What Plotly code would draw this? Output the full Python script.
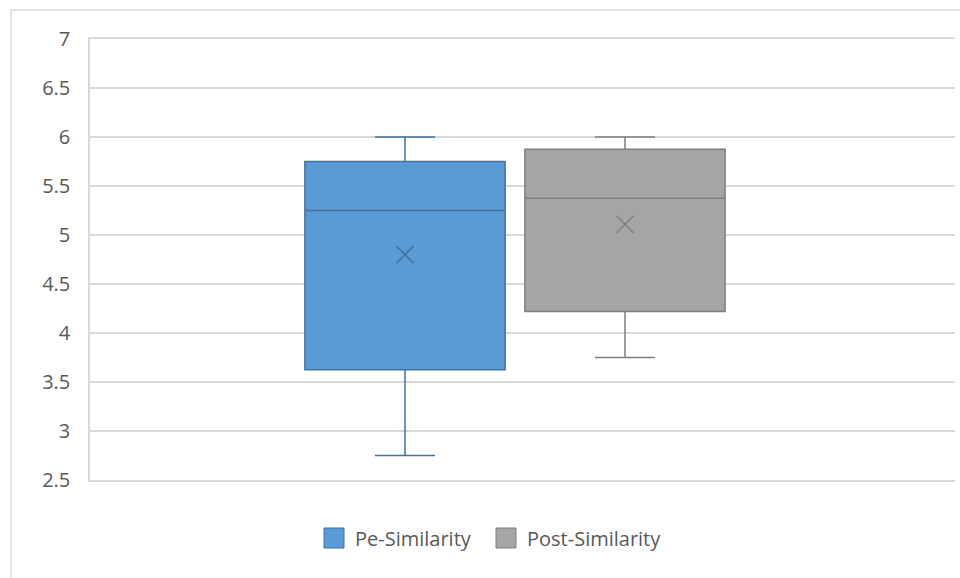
import plotly.graph_objects as go

# Summary statistics for each group
series_names = ["Pe-Similarity", "Post-Similarity"]
lower_whisker = [2.75, 3.75]
q1_values = [3.625, 4.22]
median_values = [5.25, 5.375]
q3_values = [5.75, 5.875]
upper_whisker = [6.0, 6.0]
mean_values = [4.8, 5.11]

fill_colors = ["#5B9BD5", "#A5A5A5"]
line_colors = ["#41719C", "#7F7F7F"]
mean_colors = ["#41719C", "#7F7F7F"]

y_ticks = [2.5, 3, 3.5, 4, 4.5, 5, 5.5, 6, 6.5, 7]

# Layout geometry (pixels)
W, H = 960, 578
ML, MR, MT, MB = 90, 5, 39, 98
plot_w = W - ML - MR
plot_h = H - MT - MB


def px_x(px):
    """Convert an absolute pixel x to paper coordinates."""
    return (px - ML) / plot_w


def px_y(py):
    """Convert an absolute pixel y (from top) to paper coordinates."""
    return (H - MB - py) / plot_h


fig = go.Figure()
for i, name in enumerate(series_names):
    fig.add_trace(go.Box(
        name=name,
        x=[i],
        q1=[q1_values[i]],
        median=[median_values[i]],
        q3=[q3_values[i]],
        lowerfence=[lower_whisker[i]],
        upperfence=[upper_whisker[i]],
        boxmean=False,
        boxpoints=False,
        width=0.91,
        whiskerwidth=0.3,
        fillcolor=fill_colors[i],
        line=dict(color=line_colors[i], width=1.5),
        showlegend=False,
        hoverinfo="skip",
    ))
    fig.add_trace(go.Scatter(
        x=[i],
        y=[mean_values[i]],
        mode="markers",
        marker=dict(symbol="x-thin", size=17,
                    line=dict(color=mean_colors[i], width=1.5),
                    color=mean_colors[i]),
        showlegend=False,
        hoverinfo="skip",
    ))

# x scale: one unit = distance between box centres (220 px)
unit = 220.0
first_center_px = 405 - ML
x_range = [-first_center_px / unit, (plot_w - first_center_px) / unit]

font_family = "Open Sans, Liberation Sans, sans-serif"
text_color = "#595959"
border_color = "#D9D9D9"

# Chart-area border (top and left edges visible)
fig.add_shape(type="line", xref="paper", yref="paper",
              x0=px_x(11), x1=px_x(W + 5), y0=px_y(10), y1=px_y(10),
              line=dict(color=border_color, width=1.5))
fig.add_shape(type="line", xref="paper", yref="paper",
              x0=px_x(11), x1=px_x(11), y0=px_y(10), y1=px_y(H + 5),
              line=dict(color=border_color, width=1.5))

# Legend: coloured squares with labels underneath the plot
legend_x = [324, 496]
legend_top = 528
swatch = 20
for i, name in enumerate(series_names):
    fig.add_shape(type="rect", xref="paper", yref="paper",
                  x0=px_x(legend_x[i]), x1=px_x(legend_x[i] + swatch),
                  y0=px_y(legend_top + swatch), y1=px_y(legend_top),
                  fillcolor=fill_colors[i],
                  line=dict(color=line_colors[i], width=1))
    fig.add_annotation(xref="paper", yref="paper",
                       x=px_x(legend_x[i] + swatch + 9),
                       y=px_y(legend_top + swatch / 2),
                       xanchor="left", yanchor="middle",
                       text=name, showarrow=False,
                       font=dict(size=20, color=text_color))

fig.update_layout(
    width=W, height=H,
    margin=dict(l=ML, r=MR, t=MT, b=MB),
    paper_bgcolor="white",
    plot_bgcolor="white",
    font=dict(family=font_family, size=20, color=text_color),
    boxmode="overlay",
    xaxis=dict(
        range=x_range,
        showticklabels=False,
        showgrid=False,
        zeroline=False,
        showline=True,
        mirror=True,
        linecolor=border_color,
        linewidth=1.5,
        fixedrange=True,
    ),
    yaxis=dict(
        range=[2.5, 7],
        tickvals=y_ticks,
        ticktext=[f"{v:g}" for v in y_ticks],
        showgrid=True,
        gridcolor=border_color,
        gridwidth=1.5,
        zeroline=False,
        showline=True,
        linecolor=border_color,
        linewidth=1.5,
        ticks="",
        ticklabelstandoff=14,
        tickfont=dict(size=20, color=text_color),
    ),
    showlegend=False,
)

fig.write_html("out.html")
